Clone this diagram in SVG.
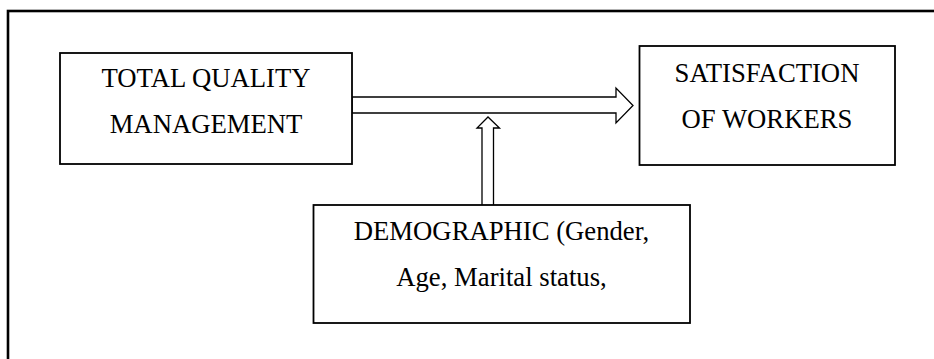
<svg xmlns="http://www.w3.org/2000/svg" width="934" height="359" viewBox="0 0 934 359">
<style>
.box{fill:#fff;stroke:#000;stroke-width:1.8}
.frame{fill:none;stroke:#000;stroke-width:2.6}
.arrow{fill:#fff;stroke:#000;stroke-width:1.3;stroke-linejoin:miter}
.t{font-family:"Liberation Serif","Times New Roman",serif;font-size:26.7px;fill:#000;text-anchor:middle}
</style>
<rect width="934" height="359" fill="#fff"/>
<rect class="frame" x="8" y="11" width="940" height="360"/>
<g id="connectors">
<polygon class="arrow" points="352,97 616,97 616,88 633,105.5 616,123 616,113 352,113"/>
<polygon class="arrow" points="482,207 482,128 477,128 488,117 499.5,128 493.5,128 493.5,207"/>
</g>
<g id="tqm">
<rect class="box" x="60" y="53" width="292" height="111"/>
<text class="t" x="206" y="87">TOTAL QUALITY</text>
<text class="t" x="206" y="133">MANAGEMENT</text>
</g>
<g id="satisfaction">
<rect class="box" x="639.5" y="46" width="255.5" height="119"/>
<text class="t" x="767" y="82">SATISFACTION</text>
<text class="t" x="767" y="128">OF WORKERS</text>
</g>
<g id="demographic">
<rect class="box" x="313.5" y="205" width="376.5" height="118"/>
<text class="t" x="501.5" y="240">DEMOGRAPHIC (Gender,</text>
<text class="t" x="501.5" y="286">Age, Marital status,</text>
</g>
</svg>
